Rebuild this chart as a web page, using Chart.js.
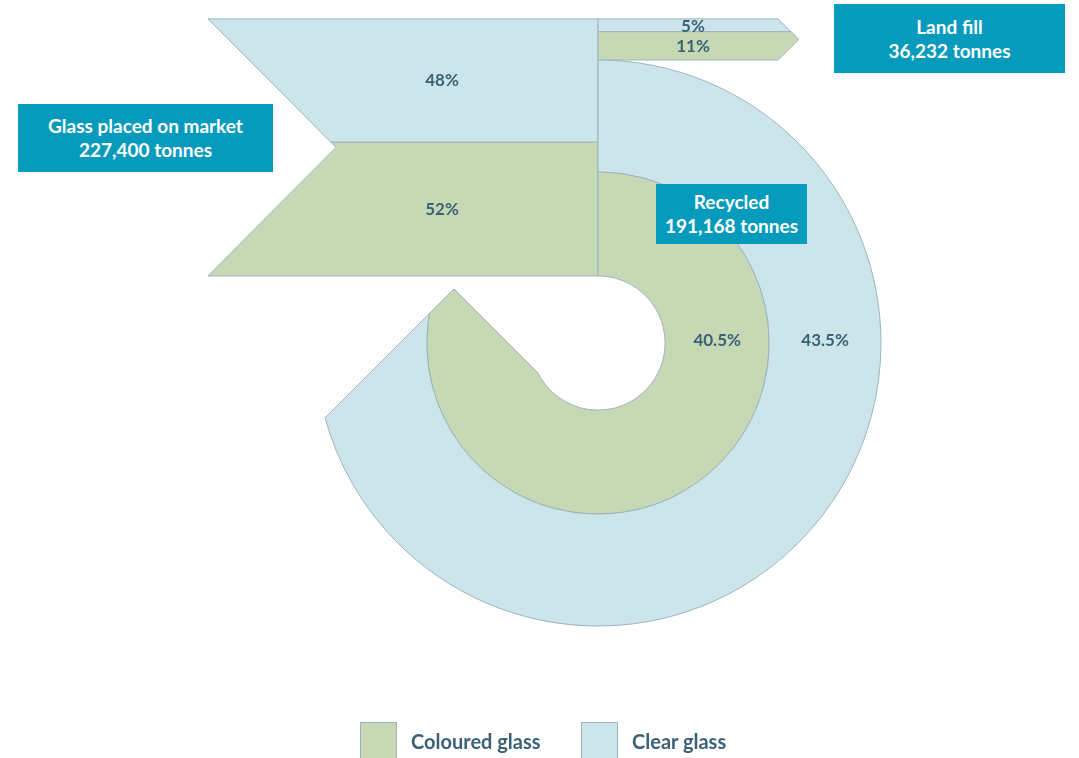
<!DOCTYPE html>
<html>
<head>
<meta charset="utf-8">
<script src="https://cdn.jsdelivr.net/npm/chart.js@4.4.1/dist/chart.umd.min.js"></script>
<style>
  body { margin: 0; background: #fff; font-family: Lato, "Open Sans", sans-serif; }
  #wrap { position: relative; width: 1079px; height: 758px; overflow: hidden; }
  #flowChart { position: absolute; left: 0; top: 0; }
  .tag { position: absolute; background: #069bbd; color: #fff; font-weight: 700; font-size: 19px;
         line-height: 24px; text-align: center; display: flex; align-items: center; justify-content: center; }
  .key { position: absolute; top: 722px; display: flex; align-items: center; }
  .key span.box { width: 37px; height: 37px; border: 1px solid #9cb4bb; box-sizing: border-box; }
  .key span.txt { margin-left: 14px; font-size: 20px; font-weight: 700; color: #3b6177; }
</style>
</head>
<body>
<div id="wrap">
  <canvas id="flowChart" width="1079" height="758"></canvas>
</div>
<script>
// glass streams: index 0 = coloured, 1 = clear
const streams = ['Coloured glass', 'Clear glass'];
const streamColours = ['#c6d9b4', '#cce5eb'];
const marketShare = [52, 48];
const landfillShare = [11, 5];
const recycledShare = [40.5, 43.5];
const marketTonnes = 227400;
const landfillTonnes = 36232;
const recycledTonnes = 191168;

const EDGE = '#9cb4bb';
const TEXT = '#3b6177';
const RING_SWEEP = 300;          // degrees, arrow head trims the end
const CENTRE_X = 598, CENTRE_Y = 343, OUTER_R = 283, HOLE_R = 67;
const IN_LEN = 390, IN_NOTCH = 128;
const OUT_LEN = 180, OUT_TIP = 21;
const TIP = [-0.509, -0.191];    // ring arrow tip, relative to centre in outer radii

function pct(v) { return v + '%'; }

// where a ray from p along d meets a circle (exit or enter)
function rayCircle(p, d, cx, cy, r, exit) {
  const ox = p[0] - cx, oy = p[1] - cy;
  const b = d[0] * ox + d[1] * oy;
  const c = ox * ox + oy * oy - r * r;
  const s = Math.sqrt(Math.max(b * b - c, 0));
  const t = exit ? -b + s : -b - s;
  return [p[0] + d[0] * t, p[1] + d[1] * t];
}

function poly(ctx, pts, fill) {
  ctx.beginPath();
  ctx.moveTo(pts[0][0], pts[0][1]);
  for (let i = 1; i < pts.length; i++) ctx.lineTo(pts[i][0], pts[i][1]);
  ctx.closePath();
  ctx.fillStyle = fill;
  ctx.fill();
  ctx.lineWidth = 1;
  ctx.strokeStyle = EDGE;
  ctx.stroke();
}

function geometry(chart) {
  const outer = chart.getDatasetMeta(0).data[0];
  const inner = chart.getDatasetMeta(1).data[0];
  const cx = outer.x, cy = outer.y;
  const k = (outer.outerRadius - outer.innerRadius) / recycledShare[1];
  const g = { outer, inner, cx, cy, k };
  // input band
  g.yB = cy - inner.innerRadius;
  g.yMid = g.yB - marketShare[0] * k;
  g.yT = g.yMid - marketShare[1] * k;
  // landfill band
  g.y1 = g.yT + landfillShare[1] * k;
  g.y2 = g.y1 + landfillShare[0] * k;
  // arrow head at the end of the ring
  const R = outer.outerRadius;
  g.tip = [cx + TIP[0] * R, cy + TIP[1] * R];
  g.dirA = [-Math.SQRT1_2, Math.SQRT1_2];
  g.dirB = [Math.SQRT1_2, Math.SQRT1_2];
  g.pA = rayCircle(g.tip, g.dirA, cx, cy, R, true);
  g.pB = rayCircle(g.tip, g.dirB, cx, cy, inner.innerRadius, false);
  return g;
}

const flowPlugin = {
  id: 'flows',
  beforeDatasetsDraw(chart) {
    const ctx = chart.ctx;
    const g = geometry(chart);
    const xR = g.cx, xL = g.cx - IN_LEN;
    const xA = xL + IN_NOTCH, yA = (g.yT + g.yB) / 2;
    const notchX = y => xL + IN_NOTCH * (1 - Math.abs(y - yA) / (yA - g.yT));

    const top = [[xL, g.yT], [xR, g.yT], [xR, g.yMid], [notchX(g.yMid), g.yMid]];
    if (yA < g.yMid) top.push([xA, yA]);
    const bot = [[notchX(g.yMid), g.yMid], [xR, g.yMid], [xR, g.yB], [xL, g.yB]];
    if (yA > g.yMid) bot.push([xA, yA]);
    poly(ctx, top, streamColours[1]);
    poly(ctx, bot, streamColours[0]);

    const xE = xR + OUT_LEN, xT = xE + OUT_TIP, yTip = (g.yT + g.y2) / 2;
    const tipX = y => xE + OUT_TIP * (1 - Math.abs(y - yTip) / (yTip - g.yT));
    const clear = [[xR, g.yT], [xE, g.yT]];
    if (yTip < g.y1) clear.push([xT, yTip]);
    clear.push([tipX(g.y1), g.y1], [xR, g.y1]);
    const col = [[xR, g.y1], [tipX(g.y1), g.y1]];
    if (yTip >= g.y1) col.push([xT, yTip]);
    col.push([xE, g.y2], [xR, g.y2]);
    poly(ctx, clear, streamColours[1]);
    poly(ctx, col, streamColours[0]);

    // trim the ring end to an arrow head
    const far = [g.tip[0] + (g.pA[0] - g.tip[0]) * 2, g.tip[1] + (g.pA[1] - g.tip[1]) * 2];
    ctx.save();
    ctx.beginPath();
    ctx.moveTo(g.tip[0], g.tip[1]);
    ctx.lineTo(far[0], far[1]);
    ctx.lineTo(-2000, 3000);
    ctx.lineTo(4000, 3000);
    ctx.lineTo(4000, -2000);
    ctx.lineTo(g.cx - 3, -2000);
    ctx.lineTo(g.cx - 3, g.cy);
    ctx.lineTo(g.pB[0], g.pB[1]);
    ctx.closePath();
    ctx.clip();
  },
  afterDatasetsDraw(chart) {
    const ctx = chart.ctx;
    ctx.restore();
    const g = geometry(chart);
    ctx.beginPath();
    ctx.moveTo(g.pA[0], g.pA[1]);
    ctx.lineTo(g.tip[0], g.tip[1]);
    ctx.lineTo(g.pB[0], g.pB[1]);
    ctx.lineWidth = 1;
    ctx.strokeStyle = EDGE;
    ctx.stroke();

    ctx.font = 'bold 17px Lato, "Open Sans", sans-serif';
    ctx.fillStyle = TEXT;
    ctx.textAlign = 'center';
    ctx.textBaseline = 'middle';
    const lx = g.cx - 156;
    ctx.fillText(pct(marketShare[1]), lx, (g.yT + g.yMid) / 2);
    ctx.fillText(pct(marketShare[0]), lx, (g.yMid + g.yB) / 2);
    ctx.fillText(pct(landfillShare[1]), g.cx + 95, (g.yT + g.y1) / 2 + 1);
    ctx.fillText(pct(landfillShare[0]), g.cx + 95, (g.y1 + g.y2) / 2 + 1);
    const o = g.outer, i = g.inner;
    ctx.fillText(pct(recycledShare[1]), g.cx + (o.outerRadius + o.innerRadius) / 2, g.cy - 2);
    ctx.fillText(pct(recycledShare[0]), g.cx + (i.outerRadius + i.innerRadius) / 2, g.cy - 2);
  }
};

function ring(idx) {
  return {
    label: streams[idx],
    data: [RING_SWEEP, 360 - RING_SWEEP],
    weight: recycledShare[idx],
    backgroundColor: [streamColours[idx], 'rgba(0,0,0,0)'],
    borderColor: EDGE,
    borderWidth: [1, 0]
  };
}

const chart = new Chart(document.getElementById('flowChart'), {
  type: 'doughnut',
  data: { labels: ['recycled', 'rest'], datasets: [ring(1), ring(0)] },
  options: {
    responsive: false,
    animation: false,
    events: [],
    radius: OUTER_R,
    cutout: HOLE_R,
    layout: { padding: { left: CENTRE_X - OUTER_R, top: CENTRE_Y - OUTER_R,
                         right: 1079 - CENTRE_X - OUTER_R, bottom: 758 - CENTRE_Y - OUTER_R } },
    plugins: { legend: { display: false }, tooltip: { enabled: false } }
  },
  plugins: [flowPlugin]
});

// boxed totals
const wrap = document.getElementById('wrap');
function tag(text, tonnes, left, top, w, h) {
  const d = document.createElement('div');
  d.className = 'tag';
  d.style.left = left + 'px'; d.style.top = top + 'px';
  d.style.width = w + 'px'; d.style.height = h + 'px';
  d.innerHTML = text + '<br>' + tonnes.toLocaleString('en-GB') + ' tonnes';
  wrap.appendChild(d);
}
tag('Glass placed on market', marketTonnes, 18, 104, 255, 68);
tag('Land fill', landfillTonnes, 834, 4, 231, 69);
tag('Recycled', recycledTonnes, 656, 184, 151, 60);

// legend
[[360, 0], [581, 1]].forEach(([left, idx]) => {
  const d = document.createElement('div');
  d.className = 'key';
  d.style.left = left + 'px';
  d.innerHTML = '<span class="box" style="background:' + streamColours[idx] + '"></span>' +
                '<span class="txt">' + streams[idx] + '</span>';
  wrap.appendChild(d);
});
</script>
</body>
</html>
